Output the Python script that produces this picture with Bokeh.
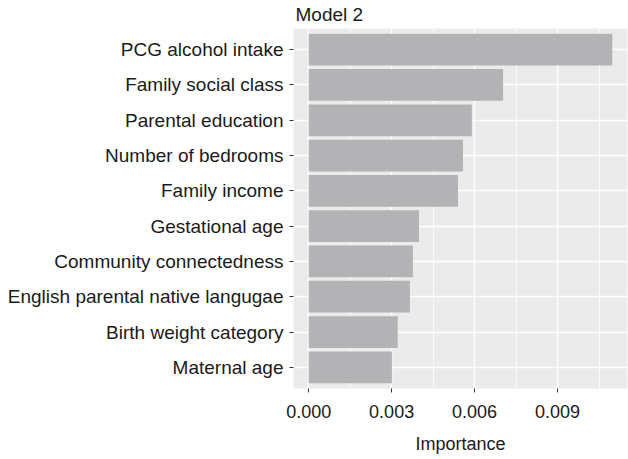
from bokeh.plotting import figure
from bokeh.models import Range1d, FixedTicker
from bokeh.embed import file_html
from bokeh.resources import INLINE

features = ["Maternal age", "Birth weight category", "English parental native langugae",
            "Community connectedness", "Gestational age", "Family income",
            "Number of bedrooms", "Parental education", "Family social class",
            "PCG alcohol intake"]
importance = [0.00301, 0.00322, 0.00366, 0.00377, 0.00399, 0.00540,
              0.00558, 0.00590, 0.00703, 0.01098]
x_ticks = [0.0, 0.003, 0.006, 0.009]
x_tick_labels = ["0.000", "0.003", "0.006", "0.009"]
x_minor = [0.0015, 0.0045, 0.0075, 0.0105]
title_text = "Model 2"

ypos = list(range(1, len(features) + 1))
xmax = max(importance)
pad = xmax * 0.05
ytop = len(features) + 0.6

p = figure(width=628, height=459, output_backend="svg", toolbar_location=None,
           x_range=Range1d(-pad, xmax + pad), y_range=Range1d(0.4, ytop),
           min_border_left=293, min_border_right=1, min_border_top=28, min_border_bottom=71)
p.background_fill_color = "#EBEBEB"
p.border_fill_color = "white"
p.outline_line_color = None

p.hbar(y=ypos, right=importance, left=0, height=0.9, fill_color="#B3B3B5", line_color=None)

p.xaxis.ticker = FixedTicker(ticks=x_ticks, minor_ticks=x_minor)
p.xaxis.major_label_overrides = dict(zip(x_ticks, x_tick_labels))
p.yaxis.ticker = FixedTicker(ticks=ypos)
p.yaxis.major_label_overrides = dict(zip(ypos, features))

for ax in (p.xaxis[0], p.yaxis[0]):
    ax.axis_line_color = None
    ax.major_tick_in = 0
    ax.major_tick_out = 4
    ax.major_tick_line_color = "#333333"
    ax.major_tick_line_width = 1
    ax.minor_tick_line_color = None
    ax.major_label_text_font = "Liberation Sans"
    ax.major_label_text_color = "#1a1a1a"

p.yaxis.major_label_text_font_size = "19px"
p.yaxis.major_label_standoff = 6
p.xaxis.major_label_text_font_size = "18px"
p.xaxis.major_label_standoff = 12
p.xaxis.axis_label = "Importance"
p.xaxis.axis_label_text_font = "Liberation Sans"
p.xaxis.axis_label_text_font_size = "18px"
p.xaxis.axis_label_text_font_style = "normal"
p.xaxis.axis_label_text_color = "#1a1a1a"
p.xaxis.axis_label_standoff = 13

p.xgrid.grid_line_color = "white"
p.xgrid.grid_line_width = 1.5
p.xgrid.minor_grid_line_color = "white"
p.xgrid.minor_grid_line_width = 0.8
p.ygrid.grid_line_color = "white"
p.ygrid.grid_line_width = 1.5

p.title.text = title_text
p.title.text_font = "Liberation Sans"
p.title.text_font_size = "19px"
p.title.text_font_style = "normal"
p.title.text_color = "#1a1a1a"
p.title.text_line_height = 1.0
p.title.vertical_align = "top"
p.title.offset = 2
p.title.standoff = 3

open("out.html", "w").write(file_html(p, INLINE))
